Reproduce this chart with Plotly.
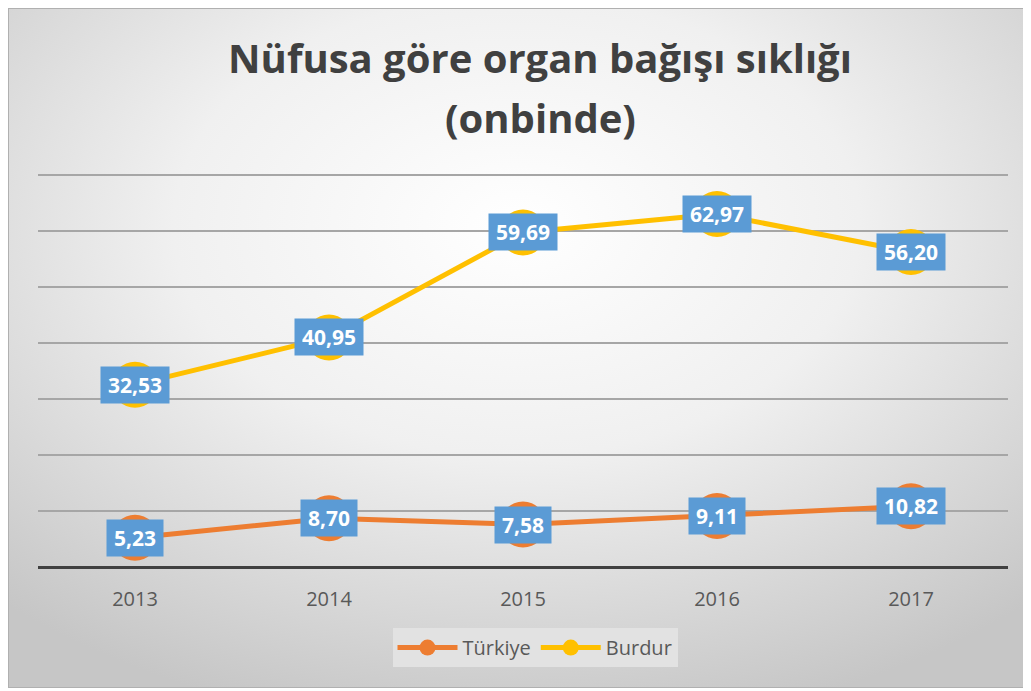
import plotly.graph_objects as go
import urllib.parse

years = [2013, 2014, 2015, 2016, 2017]
year_labels = ["2013", "2014", "2015", "2016", "2017"]
turkiye = [5.23, 8.70, 7.58, 9.11, 10.82]
burdur = [32.53, 40.95, 59.69, 62.97, 56.20]
series_names = ["Türkiye", "Burdur"]
series_colors = ["#ED7D31", "#FFC000"]
title_line1 = "Nüfusa göre organ bağışı sıklığı"
title_line2 = "(onbinde)"

W, H = 1017, 680
ml, mr, mt, mb = 30, 17, 165, 121
pw, ph = W - ml - mr, H - mt - mb
ytop = 70.3

fig = go.Figure()
for name, vals, col in zip(series_names, [turkiye, burdur], series_colors):
    fig.add_trace(go.Scatter(
        x=years, y=vals, name=name, mode="lines+markers",
        line=dict(color=col, width=5),
        marker=dict(color=col, size=46),
    ))

def fmt(v):
    return f"{v:.2f}".replace(".", ",")

annotations = []
for vals in [turkiye, burdur]:
    for x, v in zip(years, vals):
        annotations.append(dict(
            x=x, y=v, xref="x", yref="y", text="<b>" + fmt(v) + "</b>", showarrow=False,
            bgcolor="#5B9BD5", borderpad=7, height=22,
            font=dict(family="Open Sans", size=21, color="white"),
        ))

# second title line
annotations.append(dict(
    text="<b>" + title_line2 + "</b>", xref="paper", yref="paper",
    x=(532 - ml) / pw, y=1 + (mt - 109) / ph, xanchor="center", yanchor="middle",
    showarrow=False, font=dict(family="Open Sans", size=40, color="#404040"),
))

svg = (f'<svg xmlns="http://www.w3.org/2000/svg" width="{W}" height="{H}">'
       '<defs><radialGradient id="g" cx="0.5" cy="0.32" r="0.75">'
       '<stop offset="0" stop-color="#ffffff"/>'
       '<stop offset="0.45" stop-color="#f0f0f0"/>'
       '<stop offset="1" stop-color="#c6c6c6"/></radialGradient></defs>'
       f'<rect width="{W}" height="{H}" fill="url(#g)" stroke="#b0b0b0" stroke-width="2"/></svg>')
src = "data:image/svg+xml;charset=utf-8," + urllib.parse.quote(svg)

fig.update_layout(
    width=W, height=H,
    paper_bgcolor="white", plot_bgcolor="rgba(0,0,0,0)",
    margin=dict(l=ml, r=mr, t=mt, b=mb),
    title=dict(text="<b>" + title_line1 + "</b>", x=532 / W, xanchor="center",
               y=1 - 51 / H, yanchor="middle",
               font=dict(family="Open Sans", size=40, color="#404040")),
    images=[dict(source=src, xref="paper", yref="paper", x=-ml / pw, y=1 + mt / ph,
                 sizex=W / pw, sizey=H / ph, xanchor="left", yanchor="top",
                 sizing="stretch", layer="below")],
    xaxis=dict(type="linear", range=[2012.5, 2017.5], tickvals=years, ticktext=year_labels,
               showgrid=False, zeroline=False, showline=False, ticks="",
               ticklabelstandoff=18,
               tickfont=dict(family="Open Sans", size=20, color="#595959")),
    yaxis=dict(range=[0, ytop], tickvals=[10, 20, 30, 40, 50, 60, 70], showticklabels=False,
               showgrid=True, gridcolor="#a6a6a6", gridwidth=1.5, zeroline=True,
               zerolinecolor="#404040", zerolinewidth=3),
    legend=dict(orientation="h", x=(535 - 8 - ml) / pw, xanchor="center", y=-0.155, yanchor="top",
                bgcolor="#e2e2e2", font=dict(family="Open Sans", size=20, color="#595959"),
                itemwidth=60),
    annotations=annotations,
    showlegend=True,
)
fig.write_html("out.html")
